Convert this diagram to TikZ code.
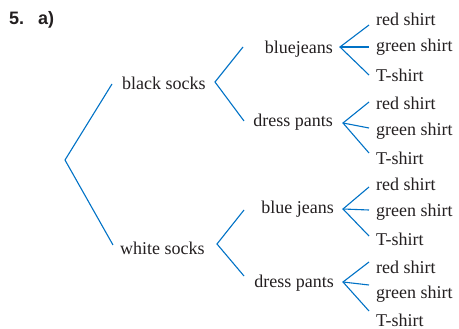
\documentclass[tikz,border=0pt]{standalone}
\usepackage{fontspec}
\setmainfont{Liberation Serif}
\newfontfamily\titlefont{Liberation Sans}
\definecolor{txt}{HTML}{231F20}
\definecolor{branch}{RGB}{0,114,198}
\begin{document}
\begin{tikzpicture}[x=1pt,y=-1pt,
  lbl/.style={font=\rmfamily\fontsize{18}{20}\selectfont, text=txt, inner sep=0pt},
  leaf/.style={lbl, anchor=base west},
  ttl/.style={font=\titlefont\bfseries\fontsize{18}{20}\selectfont, text=txt, inner sep=0pt, anchor=base west},
  br/.style={draw=branch, line width=1.1pt}]
\useasboundingbox (0,0) rectangle (459,329);
% title
\node[ttl] (n5) at (9,25) {5.};
\node[ttl] (na) at (38,25) {a)};
% level 1
\node[lbl, anchor=base west] (bs) at (122,90) {black socks};
\node[lbl, anchor=base west] (ws) at (120,255) {white socks};
% level 2
\node[lbl, anchor=base east] (bj1) at (333,54) {bluejeans};
\node[lbl, anchor=base east] (dp1) at (333,127) {dress pants};
\node[lbl, anchor=base east] (bj2) at (334,214) {blue jeans};
\node[lbl, anchor=base east] (dp2) at (334,288) {dress pants};
% level 3
\node[leaf] (r1) at (376,26) {red shirt};
\node[leaf] (g1) at (376,52) {green shirt};
\node[leaf] (t1) at (376,81.5) {T-shirt};
\node[leaf] (r2) at (376,110) {red shirt};
\node[leaf] (g2) at (376,136) {green shirt};
\node[leaf] (t2) at (376,165) {T-shirt};
\node[leaf] (r3) at (376,191) {red shirt};
\node[leaf] (g3) at (376,217) {green shirt};
\node[leaf] (t3) at (376,246) {T-shirt};
\node[leaf] (r4) at (376,274) {red shirt};
\node[leaf] (g4) at (376,299) {green shirt};
\node[leaf] (t4) at (376,326.5) {T-shirt};
% branch points
\coordinate (root) at (65,160);
\coordinate (bsE) at (112,84);
\coordinate (wsE) at (113,245);
\coordinate (bsV) at (215,82);
\coordinate (bsU) at (243,47);
\coordinate (bsD) at (244,121);
\coordinate (wsV) at (217,244);
\coordinate (wsU) at (244,210);
\coordinate (wsD) at (244,276);
\coordinate (v1) at (340,47);
\coordinate (v2) at (343,123);
\coordinate (v3) at (343,209);
\coordinate (v4) at (343,282);
\coordinate (e1a) at (369,25);  \coordinate (e1b) at (369,47);  \coordinate (e1c) at (369,75);
\coordinate (e2a) at (369,102); \coordinate (e2b) at (369,128); \coordinate (e2c) at (369,153);
\coordinate (e3a) at (369,187); \coordinate (e3b) at (369,210); \coordinate (e3c) at (369,236);
\coordinate (e4a) at (369,262); \coordinate (e4b) at (369,285); \coordinate (e4c) at (369,311);
% branches
\draw[br] (bsE) -- (root) -- (wsE);
\draw[br] (bsU) -- (bsV) -- (bsD);
\draw[br] (wsU) -- (wsV) -- (wsD);
\draw[br] (e1a) -- (v1) -- (e1c); \draw[br] (v1) -- (e1b);
\draw[br] (e2a) -- (v2) -- (e2c); \draw[br] (v2) -- (e2b);
\draw[br] (e3a) -- (v3) -- (e3c); \draw[br] (v3) -- (e3b);
\draw[br] (e4a) -- (v4) -- (e4c); \draw[br] (v4) -- (e4b);
\end{tikzpicture}
\end{document}
